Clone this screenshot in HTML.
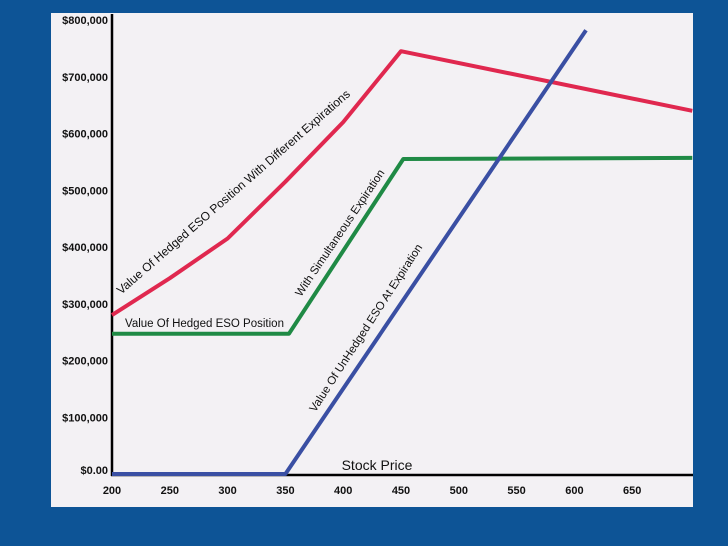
<!DOCTYPE html>
<html><head><meta charset="utf-8"><style>
body{margin:0;background:#0d5496;}
svg{display:block;font-family:"Liberation Sans",sans-serif;}
</style></head><body>
<svg width="728" height="546">
<rect x="0" y="0" width="728" height="546" fill="#0d5496"/>
<rect x="51" y="13" width="642" height="494" fill="#f3f1f4"/>
<g id="axes"></g>
<g id="series"></g>
<text x="377" y="470" font-size="14" text-anchor="middle" fill="#111">Stock Price</text>
<text transform="translate(236,195) rotate(-41)" font-size="12" text-anchor="middle" fill="#111">Value Of Hedged ESO Position With Different Expirations</text>
<text x="125" y="327" font-size="11.5" fill="#111">Value Of Hedged ESO Position</text>
<text transform="translate(343,235) rotate(-56)" font-size="11.5" text-anchor="middle" fill="#111">With Simultaneous Expiration</text>
<text transform="translate(369,330) rotate(-57)" font-size="11.5" text-anchor="middle" fill="#111">Value Of UnHedged ESO At Expiration</text>
</svg>
<script>
const xTicks=[200,250,300,350,400,450,500,550,600,650];
const yTicks=[0,100000,200000,300000,400000,500000,600000,700000,800000];
const yTickLabels=["$0.00","$100,000","$200,000","$300,000","$400,000","$500,000","$600,000","$700,000","$800,000"];
const redX=[200,250,300,350,400,450,702];
const redY=[280000,345000,415000,515000,620000,745000,640000];
const greenX=[200,353,452,702];
const greenY=[247000,247000,555000,557000];
const blueX=[200,350,610];
const blueY=[0,0,782000];
const NS="http://www.w3.org/2000/svg";
function sx(v){return 112+(v-200)*57.8/50;}
function sy(v){return 474-v*0.5675/1000;}
const axes=document.getElementById('axes');
const series=document.getElementById('series');
function mk(tag,attrs,parent){const e=document.createElementNS(NS,tag);for(const k in attrs)e.setAttribute(k,attrs[k]);parent.appendChild(e);return e;}
let ya=mk('line',{x1:112,y1:14,x2:112,y2:476,stroke:'#000','stroke-width':2.5},axes);


let xa=mk('line',{x1:111,y1:475,x2:693,y2:475,stroke:'#000','stroke-width':2.5},axes);


yTicks.forEach((v,i)=>{
  const t=mk('text',{x:108,y:sy(v)+(i==0?0:4),'text-anchor':'end','font-size':11,'font-weight':'bold',fill:'#111'},axes);
  t.textContent=yTickLabels[i];
  
  
});
xTicks.forEach(v=>{
  const t=mk('text',{x:sx(v),y:494,'text-anchor':'middle','font-size':11,'font-weight':'bold',fill:'#111'},axes);
  t.textContent=String(v);
  
  
});
function line(xs,ys,color,name){
  const pts=xs.map((x,i)=>sx(x).toFixed(1)+','+sy(ys[i]).toFixed(1)).join(' ');
  const p=mk('polyline',{points:pts,fill:'none',stroke:color,'stroke-width':4,'stroke-linejoin':'round'},series);
  
  
}
const clip=mk('clipPath',{id:'cp'},document.querySelector('svg'));
mk('rect',{x:51,y:13,width:642,height:494},clip);
series.setAttribute('clip-path','url(#cp)');
line(greenX,greenY,'#1f8a45','green-series-line');
line(redX,redY,'#e0284f','red-series-line');
line(blueX,blueY,'#3a4fa3','blue-series-line');
</script>
</body></html>
